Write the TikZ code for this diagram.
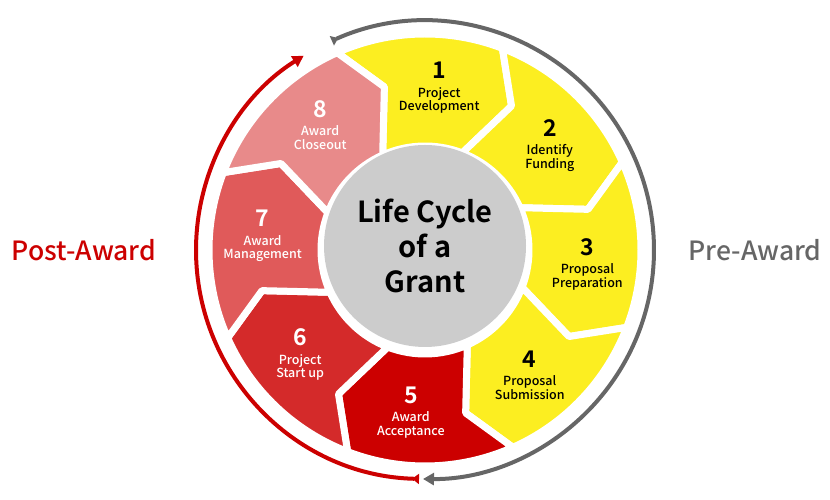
\documentclass[tikz,border=0pt]{standalone}
\usepackage{fontspec}
\setmainfont{Noto Sans CJK KR}[UprightFont={* Medium}, BoldFont={* Bold}]
\usepackage{tikz}
\usetikzlibrary{arrows.meta}
\definecolor{preyellow}{HTML}{FCEE21}
\definecolor{accept}{HTML}{CC0000}
\definecolor{startup}{HTML}{D42A2A}
\definecolor{manage}{HTML}{E05A5A}
\definecolor{closeout}{HTML}{E88A8A}
\definecolor{hubgray}{HTML}{CCCCCC}
\definecolor{pregray}{HTML}{666666}

\begin{document}
\begin{tikzpicture}[x=1pt, y=1pt,
    seg/.style={draw=white, line width=7pt, line join=round},
    steplabel/.style={align=center, inner sep=0pt, font=\fontsize{12.5}{13.5}\selectfont},
    hub/.style={circle, fill=hubgray, minimum size=202pt, inner sep=0pt, align=center, font=\fontsize{29}{35}\selectfont\bfseries},
    side/.style={font=\fontsize{26.5}{28}\selectfont},
    cyc/.style={line width=4pt, {Triangle[reversed, length=7pt, width=10pt]}-{Triangle[length=11pt, width=12pt]}}
]
\useasboundingbox (0,0) rectangle (830,500);

\begin{scope}[shift={(425,250)}]
% Segments
\foreach \k/\col in {1/preyellow, 2/preyellow, 3/preyellow, 4/preyellow, 5/accept, 6/startup, 7/manage, 8/closeout} {
    \pgfmathsetmacro{\t}{114-45*(\k-1)}
    \pgfmathsetmacro{\l}{\t-45}
    \path[seg, fill=\col] (\t:216) arc[start angle=\t, end angle=\l, radius=216]
        -- (\l-10:168) -- (\l:104) arc[start angle=\l, end angle=\t, radius=104]
        -- (\t-10:168) -- cycle;
}

% Center
\node[hub] (hub) at (0,4) {Life Cycle\\of a\\Grant};

% Step labels
\foreach \k/\txt/\tc in {1/Project\\Development/black, 2/Identify\\Funding/black,
    3/Proposal\\Preparation/black, 4/Proposal\\Submission/black,
    5/Award\\Acceptance/white, 6/Project\\Start up/white,
    7/Award\\Management/white, 8/Award\\Closeout/white} {
    \pgfmathsetmacro{\a}{85-45*(\k-1)}
    \node[steplabel, text=\tc] (step\k) at (\a:163) {{\fontsize{23}{26}\selectfont\bfseries\k}\\[5pt]\txt};
}

% Cycle arrows
\coordinate (pre start) at (114:229);
\coordinate (post start) at (-91.5:229);
\draw[cyc, pregray] (pre start) arc[start angle=114, end angle=-90.5, radius=229];
\draw[cyc, accept] (post start) arc[start angle=-91.5, end angle=-238, radius=229];
\end{scope}

% Phase labels
\node[side, text=accept] (post) at (84,250) {Post-Award};
\node[side, text=pregray] (pre) at (755,250) {Pre-Award};

\end{tikzpicture}
\end{document}
